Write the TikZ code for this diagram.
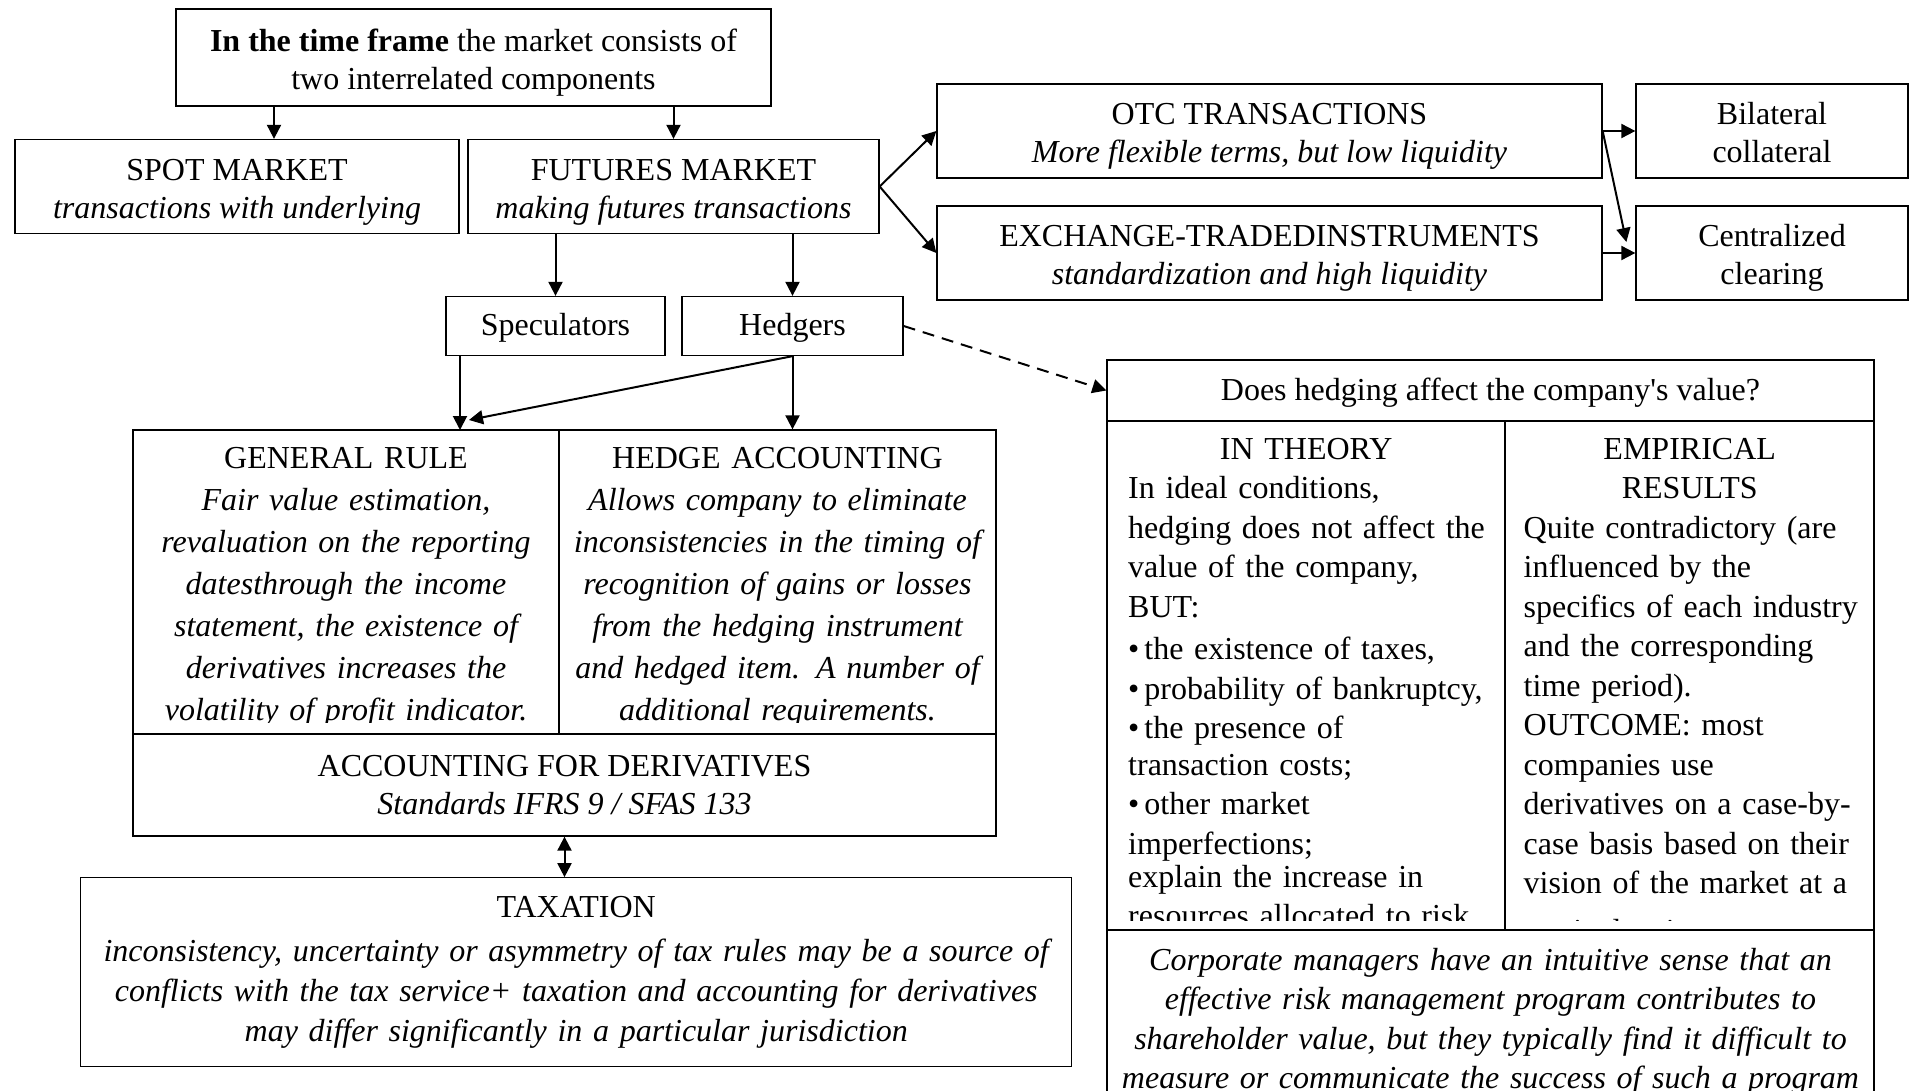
\documentclass[tikz,border=0pt]{standalone}
\usepackage{fontspec}
\setmainfont{Liberation Serif}
\usetikzlibrary{arrows.meta}

\tikzset{
  block/.style={draw, line width=1.3pt, inner sep=0pt, align=center, font=\fontsize{32}{38}\selectfont},
  lowblock/.style={block, text height=71pt, text depth=7pt},
  oneline/.style={block, text height=26pt, text depth=7pt},
  cell/.style={draw, line width=1.3pt, inner sep=0pt},
  txt/.style={inner sep=0pt, font=\fontsize{32}{42}\selectfont},
  conn/.style={line width=2pt, ->},
  >={Triangle[length=14pt,width=14pt]}
}

\begin{document}
\begin{tikzpicture}[x=1pt,y=-1pt]
\path[use as bounding box, clip] (0,0) rectangle (1914,1091);
\node[lowblock, minimum width=595pt, minimum height=97pt] (top) at (473.5,57.5) {\textbf{In the time frame} the market consists of\\two interrelated components};
\node[lowblock, minimum width=444pt, minimum height=94pt] (spot) at (237,186.5) {SPOT MARKET\\\textit{transactions with underlying}};
\node[lowblock, minimum width=411pt, minimum height=94pt] (fut) at (673.5,186.5) {FUTURES MARKET\\\textit{making futures transactions}};
\node[oneline, minimum width=219pt, minimum height=59pt] (spec) at (555.5,326) {Speculators};
\node[oneline, minimum width=221pt, minimum height=59pt] (hedg) at (792.5,326) {Hedgers};
\node[lowblock, minimum width=665pt, minimum height=94pt] (otc) at (1269.5,131) {OTC TRANSACTIONS\\\textit{More flexible terms, but low liquidity}};
\node[lowblock, minimum width=665pt, minimum height=94pt] (exch) at (1269.5,253) {EXCHANGE-TRADEDINSTRUMENTS\\\textit{standardization and high liquidity}};
\node[lowblock, minimum width=272pt, minimum height=94pt] (bil) at (1772,131) {Bilateral\\collateral};
\node[lowblock, minimum width=272pt, minimum height=94pt] (cent) at (1772,253) {Centralized\\clearing};
\node[cell, minimum width=426pt, minimum height=304pt] (general) at (346,582) {};
\node[cell, minimum width=437pt, minimum height=304pt] (hedge) at (777.5,582) {};
\node[block, minimum width=863pt, minimum height=102pt] (acc) at (564.5,785) {ACCOUNTING FOR DERIVATIVES\\\textit{Standards IFRS 9 / SFAS 133}};
\node[block, minimum width=991pt, minimum height=189pt, text width=960pt, font=\fontsize{32}{40}\selectfont] (tax) at (576.2,972.3) {TAXATION\\[4pt]
  \itshape inconsistency, uncertainty or asymmetry of tax rules may be a source of\\
  conflicts with the tax service+ taxation and accounting for derivatives\\
  may differ significantly in a particular jurisdiction};
\node[oneline, minimum width=767pt, minimum height=61pt] (quest) at (1490.5,390.5) {Does hedging affect the company\textquotesingle s value?};
\node[cell, minimum width=398pt, minimum height=509pt] (theory) at (1306,675.5) {};
\node[cell, minimum width=369pt, minimum height=509pt] (empir) at (1689.5,675.5) {};
\node[cell, minimum width=767pt, minimum height=200pt] (corp) at (1490.5,1030) {};

\begin{scope}
\clip (general.north west) rectangle ([yshift=12pt]hedge.south east);
\node[txt, anchor=base, text width=420pt, align=center] (gentext) at (346,468) {GENERAL RULE\\
  \itshape Fair value estimation,\\
  revaluation on the reporting\\
  datesthrough the income\\
  statement, the existence of\\
  derivatives increases the\\
  volatility of profit indicator.};
\node[txt, anchor=base, text width=420pt, align=center] (hedtext) at (777.5,468) {HEDGE ACCOUNTING\\
  \itshape Allows company to eliminate\\
  inconsistencies in the timing of\\
  recognition of gains or losses\\
  from the hedging instrument\\
  and hedged item. A number of\\
  additional requirements.};
\end{scope}

\begin{scope}
\clip (theory.north west) rectangle ([yshift=10pt]empir.south east);
\node[txt, anchor=base west, text width=375pt, align=left, font=\fontsize{32}{39.5}\selectfont] (theorytext) at (1128,459) {\makebox[356pt]{IN THEORY}\\
  In ideal conditions,\\
  hedging does not affect the\\
  value of the company,\\
  BUT:\\[3pt]
  •\hspace{5pt}the existence of taxes,\\
  •\hspace{5pt}probability of bankruptcy,\\
  •\hspace{5pt}the presence of\\[-3pt]
  transaction costs;\\
  •\hspace{5pt}other market\\
  imperfections;\\[-6pt]
  explain the increase in\\[-1pt]
  resources allocated to risk};
\node[txt, anchor=base west, text width=345pt, align=left, font=\fontsize{32}{39.5}\selectfont] (empirtext) at (1523.5,459) {\makebox[332pt]{EMPIRICAL}\\
  \makebox[332pt]{RESULTS}\\
  Quite contradictory (are\\
  influenced by the\\
  specifics of each industry\\
  and the corresponding\\
  time period).\\
  OUTCOME: most\\
  companies use\\
  derivatives on a case-by-\\
  case basis based on their\\
  vision of the market at a\\[8pt]
  particular time.};
\end{scope}

\node[txt, anchor=base, text width=750pt, align=center, font=\fontsize{32}{39.5}\selectfont\itshape] (corptext) at (1490.5,970) {Corporate managers have an intuitive sense that an\\
  effective risk management program contributes to\\
  shareholder value, but they typically find it difficult to\\
  measure or communicate the success of such a program};

\coordinate (grin) at (460,430);
\coordinate (grtip) at (469,420);
\draw[conn] ([xshift=37pt]spot.north |- top.south) -- ([xshift=37pt]spot.north);
\draw[conn] (fut.north |- top.south) -- (fut.north);
\draw[conn] (spec.north |- fut.south) -- (spec.north);
\draw[conn] (hedg.north |- fut.south) -- (hedg.north);
\draw[conn] (fut.east) -- (otc.west);
\draw[conn] (fut.east) -- (exch.west);
\draw[conn] (otc.east) -- (bil.west);
\draw[conn] (exch.east) -- (cent.west);
\draw[conn] (otc.east) -- ([xshift=-9pt,yshift=11pt]cent.west);
\draw[conn] (spec.south -| grin) -- (grin);
\draw[conn] (hedg.south) -- (grtip);
\draw[conn] (hedg.south) -- (hedg.south |- hedge.north);
\draw[conn, dash pattern=on 12pt off 8pt] (hedg.east) -- (quest.west);
\draw[conn, <->] (acc.south) -- (acc.south |- tax.north);
\end{tikzpicture}
\end{document}
